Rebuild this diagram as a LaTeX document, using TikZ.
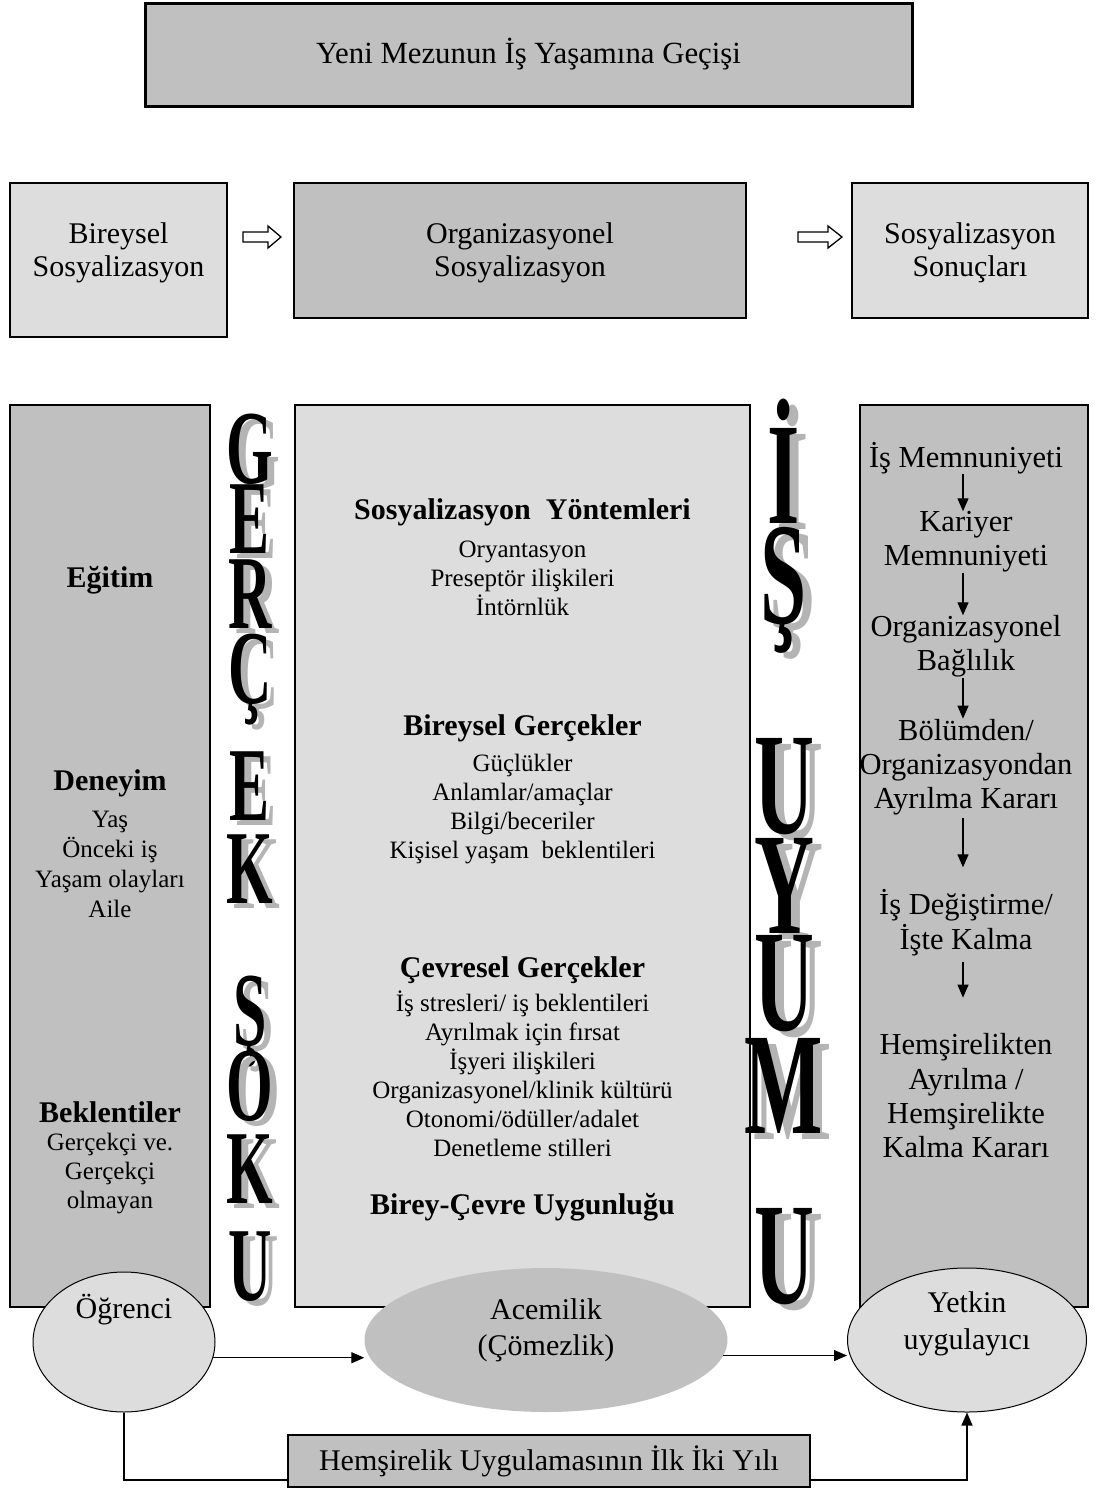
\documentclass[tikz,border=0pt]{standalone}
\usepackage{fontspec}
\setmainfont{Liberation Serif}
\usepackage{graphicx}
\usetikzlibrary{shapes.geometric,arrows.meta,calc}
\definecolor{gA}{HTML}{C0C0C0}
\definecolor{gB}{HTML}{DDDDDD}
\definecolor{gS}{HTML}{B4B4B4}
\newcommand\fsz[2]{\fontsize{#1}{#2}\selectfont}
% name, x, baseline y, size, letter, dx, dy
\newcommand\BigLtr[7]{%
  \node[bigl, text=gS, font=\fsz{#4}{#4}\bfseries] (#1s) at (#2+#6,#3+#7) {\scalebox{1}[1.75]{#5}};
  \node[bigl, font=\fsz{#4}{#4}\bfseries] (#1) at (#2,#3) {\scalebox{1}[1.75]{#5}};
}
\begin{document}
\begin{tikzpicture}[x=1pt,y=-1pt,
  box/.style={draw=black, rectangle, inner sep=0pt, align=center},
  txt/.style={inner sep=0pt, align=center},
  bigl/.style={anchor=base, inner sep=0pt},
  arr/.style={line width=1.2pt, -{Triangle[length=13pt,width=11pt]}},
  plain/.style={line width=1.2pt},
  barrow/.style={draw=black, fill=white, line width=1.3pt, line join=miter},
  head/.style={txt, font=\fsz{30}{34}\bfseries},
  lst/.style={txt, font=\fsz{25}{29}},
  rtx/.style={txt, font=\fsz{30.5}{34.3}},
  rowt/.style={txt, font=\fsz{30}{33}}
]
\useasboundingbox (0,0) rectangle (1098,1492);

% top
\node[box, fill=gA, line width=3pt, minimum width=767, minimum height=103, font=\fsz{30.8}{34}] (top) at (528.5,54.5) {Yeni Mezunun İş Yaşamına Geçişi};

% row 2
\node[box, fill=gB, line width=2pt, minimum width=217, minimum height=154] (bir) at (118.5,260) {};
\node[box, fill=gA, line width=2pt, minimum width=452, minimum height=135] (org) at (520,250.5) {};
\node[box, fill=gB, line width=2pt, minimum width=236, minimum height=135] (son) at (970,250.5) {};
\node[rowt] (birT) at (118.5,252.5) {Bireysel\\Sosyalizasyon};
\node[rowt] (orgT) at (520,252.5) {Organizasyonel\\Sosyalizasyon};
\node[rowt] (sonT) at (970,252.5) {Sosyalizasyon\\Sonuçları};

\coordinate (ba1) at (243,237);
\coordinate (ba2) at (798,237);
\draw[barrow] (ba1) -- ++(0,-5) -- ++(25,0) -- ++(0,-6) -- ++(13,11) -- ++(-13,11) -- ++(0,-6) -- ++(-25,0) -- cycle;
\draw[barrow] (ba2) -- ++(0,-5) -- ++(30,0) -- ++(0,-6) -- ++(14,11) -- ++(-14,11) -- ++(0,-6) -- ++(-30,0) -- cycle;

% columns
\node[box, fill=gA, line width=2pt, minimum width=200, minimum height=902] (lcol) at (110,856) {};
\node[box, fill=gB, line width=2pt, minimum width=455, minimum height=902] (mcol) at (522.5,856) {};
\node[box, fill=gA, line width=2pt, minimum width=228, minimum height=902] (rcol) at (974,856) {};

% left column text
\node[head] (egt) at (110,580) {Eğitim};
\node[head] (den) at (110,783) {Deneyim};
\node[lst, font=\fsz{25}{30}] (denL) at (110,864) {Yaş\\Önceki iş\\Yaşam olayları\\Aile};
\node[head] (bek) at (110,1112) {Beklentiler};
\node[lst] (bekL) at (110,1174) {Gerçekçi ve.\\Gerçekçi\\olmayan};

% middle column text
\node[head] (syo) at (522.5,512) {Sosyalizasyon\ \ Yöntemleri};
\node[lst] (syoL) at (522.5,578) {Oryantasyon\\Preseptör ilişkileri\\İntörnlük};
\node[head] (bge) at (522.5,728) {Bireysel Gerçekler};
\node[lst, font=\fsz{25}{28.7}] (bgeL) at (522.5,809) {Güçlükler\\Anlamlar/amaçlar\\Bilgi/beceriler\\Kişisel yaşam\ \ beklentileri};
\node[head] (cge) at (522.5,970) {Çevresel Gerçekler};
\node[lst] (cgeL) at (522.5,1073.5) {İş stresleri/ iş beklentileri\\Ayrılmak için fırsat\\İşyeri ilişkileri\\Organizasyonel/klinik kültürü\\Otonomi/ödüller/adalet\\Denetleme stilleri};
\node[head] (bcu) at (522.5,1207) {Birey-Çevre Uygunluğu};

% right column text
\node[rtx] (r1) at (966,458) {İş Memnuniyeti};
\node[rtx] (r2) at (966,542) {Kariyer\\Memnuniyeti};
\node[rtx] (r3) at (966,646.5) {Organizasyonel\\Bağlılık};
\node[rtx] (r4) at (966,767) {Bölümden/\\Organizasyondan\\Ayrılma Kararı};
\node[rtx] (r5) at (966,922.5) {İş Değiştirme/\\İşte Kalma};
\node[rtx] (r6) at (966,1096) {Hemşirelikten\\Ayrılma /\\Hemşirelikte\\Kalma Kararı};
\draw[arr] ([xshift=-3pt]r1.south) -- ([xshift=-3pt]r2.north);
\draw[arr] ([xshift=-3pt]r2.south) -- ([xshift=-3pt]r3.north);
\draw[arr] ([xshift=-3pt]r3.south) -- ([xshift=-3pt]r4.north);
\draw[arr, shorten <=3pt, shorten >=22pt] ([xshift=-3pt]r4.south) -- ([xshift=-3pt]r5.north);
\draw[arr, shorten <=6pt, shorten >=36pt] ([xshift=-3pt]r5.south) -- ([xshift=-3pt]r6.north);

% big letters GERCEK SOKU
\BigLtr{g1}{250}{483}{60}{G}{7}{5}
\BigLtr{g2}{250}{553}{60}{E}{7}{5}
\BigLtr{g3}{250}{628}{60}{R}{7}{5}
\BigLtr{g4}{250}{703}{60}{Ç}{7}{5}
\BigLtr{g5}{250}{820}{60}{E}{7}{5}
\BigLtr{g6}{250}{903}{60}{K}{7}{5}
\BigLtr{s1}{250}{1045}{60}{Ş}{7}{5}
\BigLtr{s2}{250}{1120}{60}{O}{7}{5}
\BigLtr{s3}{250}{1203}{60}{K}{7}{5}
\BigLtr{s4}{250}{1300}{60}{U}{7}{5}

% big letters IS UYUMU
\BigLtr{i1}{784}{523}{83}{İ}{9}{6}
\BigLtr{i2}{784}{623}{83}{Ş}{9}{6}
\BigLtr{u1}{784}{833}{83}{U}{9}{6}
\BigLtr{u2}{784}{933}{83}{Y}{9}{6}
\BigLtr{u3}{784}{1030}{83}{U}{9}{6}
\BigLtr{u4}{784}{1133}{83}{M}{9}{6}
\BigLtr{u5}{784}{1303}{83}{U}{9}{6}

% bottom ellipses
\node[ellipse, draw=black, fill=gB, line width=1pt, minimum width=182, minimum height=140, inner sep=0pt] (ogr) at (124,1342) {};
\node[ellipse, fill=gA, minimum width=363, minimum height=144, inner sep=0pt] (acm) at (546,1340) {};
\node[ellipse, draw=black, fill=gB, line width=1pt, minimum width=239, minimum height=144, inner sep=0pt] (yet) at (967,1340) {};
\node[txt, font=\fsz{30}{36}] (ogrT) at (124,1310) {Öğrenci};
\node[txt, font=\fsz{30}{36}] (acmT) at (546,1330) {Acemilik\\(Çömezlik)};
\node[txt, font=\fsz{30}{37}] (yetT) at (967,1323.5) {Yetkin\\uygulayıcı};

\draw[arr] (ogr.-10) -- (ogr.-10 -| acm.west);
\draw[arr] (acm.-5) -- (acm.-5 -| yet.west);

% bottom box
\node[box, fill=gA, line width=2.5pt, minimum width=522, minimum height=52, font=\fsz{30}{34}] (hb) at (549,1461) {Hemşirelik Uygulamasının İlk İki Yılı};
\coordinate (yline) at (0,1480);
\draw[plain] (ogr.south) -- (ogr.south |- yline) -- (hb.west |- yline);
\draw[arr] (hb.east |- yline) -- (yet.south |- yline) -- (yet.south);
\end{tikzpicture}
\end{document}
